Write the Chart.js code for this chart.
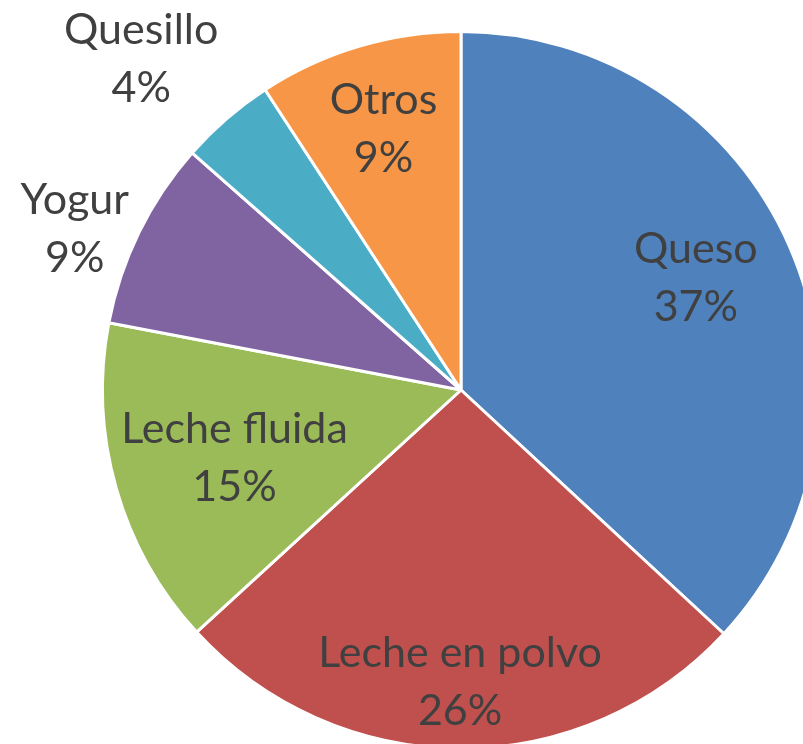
<!DOCTYPE html>
<html>
<head>
<meta charset="utf-8">
<script src="https://cdn.jsdelivr.net/npm/chart.js@4/dist/chart.umd.min.js"></script>
<style>
  html, body { margin: 0; padding: 0; background: #ffffff; overflow: hidden; width: 803px; height: 744px; }
  #wrap { position: absolute; left: 0; top: 0; width: 922px; height: 780px; }
</style>
</head>
<body>
<div id="wrap"><canvas id="c" width="922" height="780"></canvas></div>
<script>
const categories = ['Queso', 'Leche en polvo', 'Leche fluida', 'Yogur', 'Quesillo', 'Otros'];
const shares = [36.9, 26.3, 14.8, 8.5, 4.3, 9.2];
const percentLabels = ['37%', '26%', '15%', '9%', '4%', '9%'];
const colors = ['#4F81BD', '#C0504D', '#9BBB59', '#8064A2', '#4BACC6', '#F79646'];
const labelRadius = [0.725, 0.815, 0.66, 1.167, 1.283, 0.758];
const labelAngleShift = [-1.8, 0, -1, -3.5, -3.2, 0];

const labelPlugin = {
  id: 'sliceLabels',
  afterDatasetsDraw(chart) {
    const ctx = chart.ctx;
    const meta = chart.getDatasetMeta(0);
    ctx.save();
    ctx.font = '43px Lato, "Open Sans", sans-serif';
    ctx.fillStyle = '#404040';
    ctx.textAlign = 'center';
    ctx.textBaseline = 'middle';
    meta.data.forEach((arc, i) => {
      const p = arc.getProps(['x', 'y', 'startAngle', 'endAngle', 'outerRadius'], true);
      const mid = (p.startAngle + p.endAngle) / 2 + labelAngleShift[i] * Math.PI / 180;
      const r = p.outerRadius * labelRadius[i];
      const cx = p.x + Math.cos(mid) * r;
      const cy = p.y + Math.sin(mid) * r;
      ctx.fillText(categories[i], cx, cy - 29);
      ctx.fillText(percentLabels[i], cx, cy + 29);
    });
    ctx.restore();
  }
};

new Chart(document.getElementById('c'), {
  type: 'pie',
  data: {
    labels: categories,
    datasets: [{
      data: shares,
      backgroundColor: colors,
      borderColor: '#ffffff',
      borderWidth: 3
    }]
  },
  options: {
    responsive: false,
    animation: false,
    layout: { padding: { top: 30, bottom: 30, left: 101, right: 101 } },
    plugins: { legend: { display: false }, tooltip: { enabled: false } }
  },
  plugins: [labelPlugin]
});
</script>
</body>
</html>
